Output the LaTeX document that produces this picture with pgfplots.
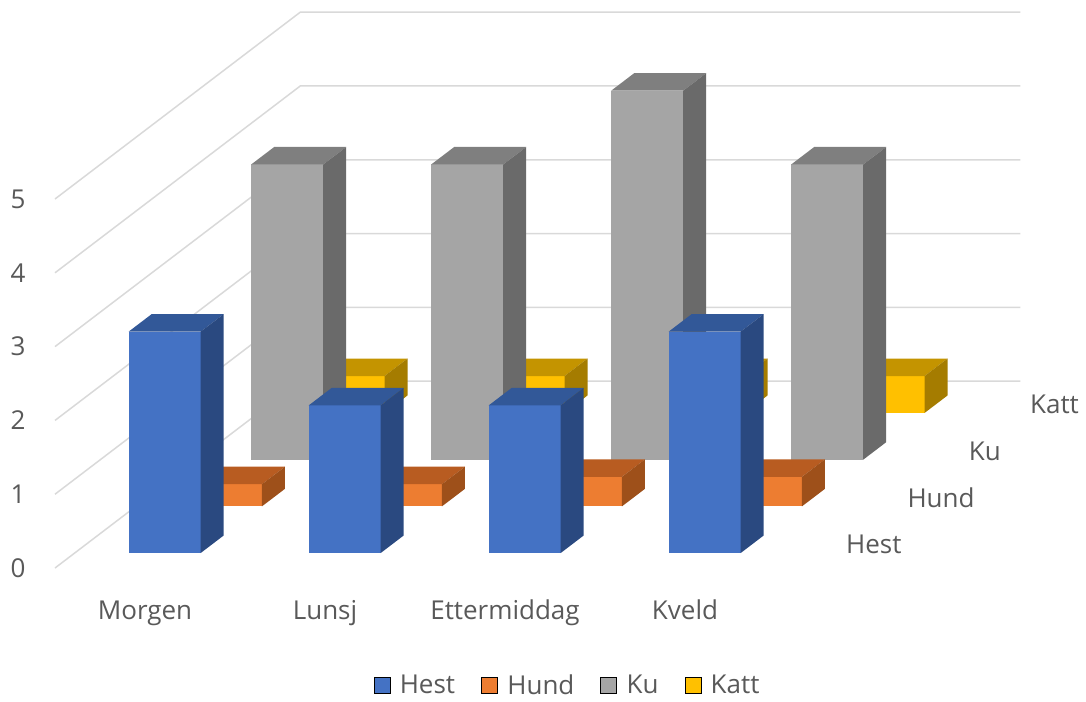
\documentclass[border=0pt]{standalone}
\usepackage{pgfplots}
\pgfplotsset{compat=1.18}
\usepackage{pgfplotstable}
\usepackage{fontspec}
\setmainfont{Open Sans}

% face colours: F = front, T = top, S = side
\definecolor{hestF}{HTML}{4472C4}\definecolor{hestT}{HTML}{325898}\definecolor{hestS}{HTML}{2A4980}
\definecolor{hundF}{HTML}{ED7D31}\definecolor{hundT}{HTML}{B85C21}\definecolor{hundS}{HTML}{9E501A}
\definecolor{kuF}{HTML}{A5A5A5}\definecolor{kuT}{HTML}{7F7F7F}\definecolor{kuS}{HTML}{6A6A6A}
\definecolor{kattF}{HTML}{FFC000}\definecolor{kattT}{HTML}{C49400}\definecolor{kattS}{HTML}{A57C00}
\definecolor{gridgray}{HTML}{D9D9D9}
\definecolor{labelgray}{HTML}{595959}

\pgfplotstableread{
cat Hest Hund Ku Katt
0   3    0.3  4  0.5
1   2    0.3  4  0.5
2   2    0.4  5  0.5
3   3    0.4  4  0.5
}\animals

% oblique projection: one series slot moves the floor by (\DX,\DY)
\def\DX{0.3406}
\def\DY{0.6328}
\def\bw{0.4}      % column width (category units)
\def\front{0.32}  % front of a column inside its slot
\def\thick{0.375} % column depth (slot units)

\tikzset{gridline/.style={draw=gridgray, line width=1.5pt}}
\newcommand\lblfont{\fontsize{26}{31}\selectfont}

% #1 category, #2 slot, #3 value, #4/#5/#6 front/top/side colours
\newcommand\cuboid[6]{%
  \pgfmathsetmacro\xl{#1+0.5-\bw/2+(#2+\front)*\DX}%
  \pgfmathsetmacro\xr{\xl+\bw}%
  \pgfmathsetmacro\yb{(#2+\front)*\DY}%
  \pgfmathsetmacro\yt{\yb+#3}%
  \pgfmathsetmacro\xlb{\xl+\thick*\DX}%
  \pgfmathsetmacro\xrb{\xr+\thick*\DX}%
  \pgfmathsetmacro\ybb{\yb+\thick*\DY}%
  \pgfmathsetmacro\ytb{\yt+\thick*\DY}%
  \edef\faces{%
    \noexpand\addplot[forget plot,draw=none,fill=#4] coordinates {(\xl,\yb) (\xr,\yb) (\xr,\yt) (\xl,\yt)};
    \noexpand\addplot[forget plot,draw=none,fill=#5] coordinates {(\xl,\yt) (\xr,\yt) (\xrb,\ytb) (\xlb,\ytb)};
    \noexpand\addplot[forget plot,draw=none,fill=#6] coordinates {(\xr,\yb) (\xrb,\ybb) (\xrb,\ytb) (\xr,\yt)};
  }\faces
}

% one row of columns: #1 table column, #2 slot, #3 colour prefix
\newcommand\series[3]{%
  \pgfplotsforeachungrouped \i in {0,1,2,3}{%
    \pgfplotstablegetelem{\i}{#1}\of\animals
    \let\val\pgfplotsretval
    \cuboid{\i}{#2}{\val}{#3F}{#3T}{#3S}%
  }%
}

\begin{document}
\begin{tikzpicture}
\begin{axis}[
  scale only axis, width=1086pt, height=701pt,
  xmin=-0.30556, xmax=5.72778, ymin=-1.8022, ymax=7.6965,
  clip=false,
  axis line style={draw=none}, tick style={draw=none},
  xtick={0.5,1.5,2.5,3.5},
  xticklabels={Morgen,Lunsj,Ettermiddag,Kveld},
  ytick={0,...,5},
  /pgf/number format/assume math mode=true,
  tick label style={font=\lblfont, text=labelgray},
  xticklabel style={anchor=base, yshift=82pt},
  yticklabel style={anchor=base, xshift=18pt, yshift=-9.3pt},
  legend image code/.code={\fill[#1] (0pt,-8pt) rectangle (16pt,8pt);
    \path[draw=none, fill=none] (0pt,0pt) -- (24pt,0pt);},
  legend style={at={(axis description cs:0.5226,0.0228)}, anchor=center,
    draw=none, fill=none, legend columns=4, font=\lblfont, text=labelgray,
    /tikz/every even column/.append style={column sep=24pt}},
]
% walls: left wall diagonals and back wall lines
\pgfplotsforeachungrouped \v in {0,...,5}{%
  \pgfmathsetmacro\bx{4*\DX}%
  \pgfmathsetmacro\by{\v+4*\DY}%
  \pgfmathsetmacro\ex{4+4*\DX}%
  \edef\gl{\noexpand\addplot[forget plot, gridline] coordinates {(0,\v) (\bx,\by) (\ex,\by)};}\gl
}
% columns, back row first
\series{Katt}{3}{katt}
\series{Ku}{2}{ku}
\series{Hund}{1}{hund}
\series{Hest}{0}{hest}

\addlegendimage{fill=hestF}\addlegendentry{Hest}
\addlegendimage{fill=hundF}\addlegendentry{Hund}
\addlegendimage{fill=kuF}\addlegendentry{Ku}
\addlegendimage{fill=kattF}\addlegendentry{Katt}

% series names along the depth axis
\node[anchor=west, font=\lblfont, text=labelgray, xshift=37pt] at (axis cs:4.1703,0.3164) {Hest};
\node[anchor=west, font=\lblfont, text=labelgray, xshift=37pt] at (axis cs:4.5109,0.9492) {Hund};
\node[anchor=west, font=\lblfont, text=labelgray, xshift=37pt] at (axis cs:4.8515,1.5820) {Ku};
\node[anchor=west, font=\lblfont, text=labelgray, xshift=37pt] at (axis cs:5.1921,2.2148) {Katt};
\end{axis}
\end{tikzpicture}
\end{document}
